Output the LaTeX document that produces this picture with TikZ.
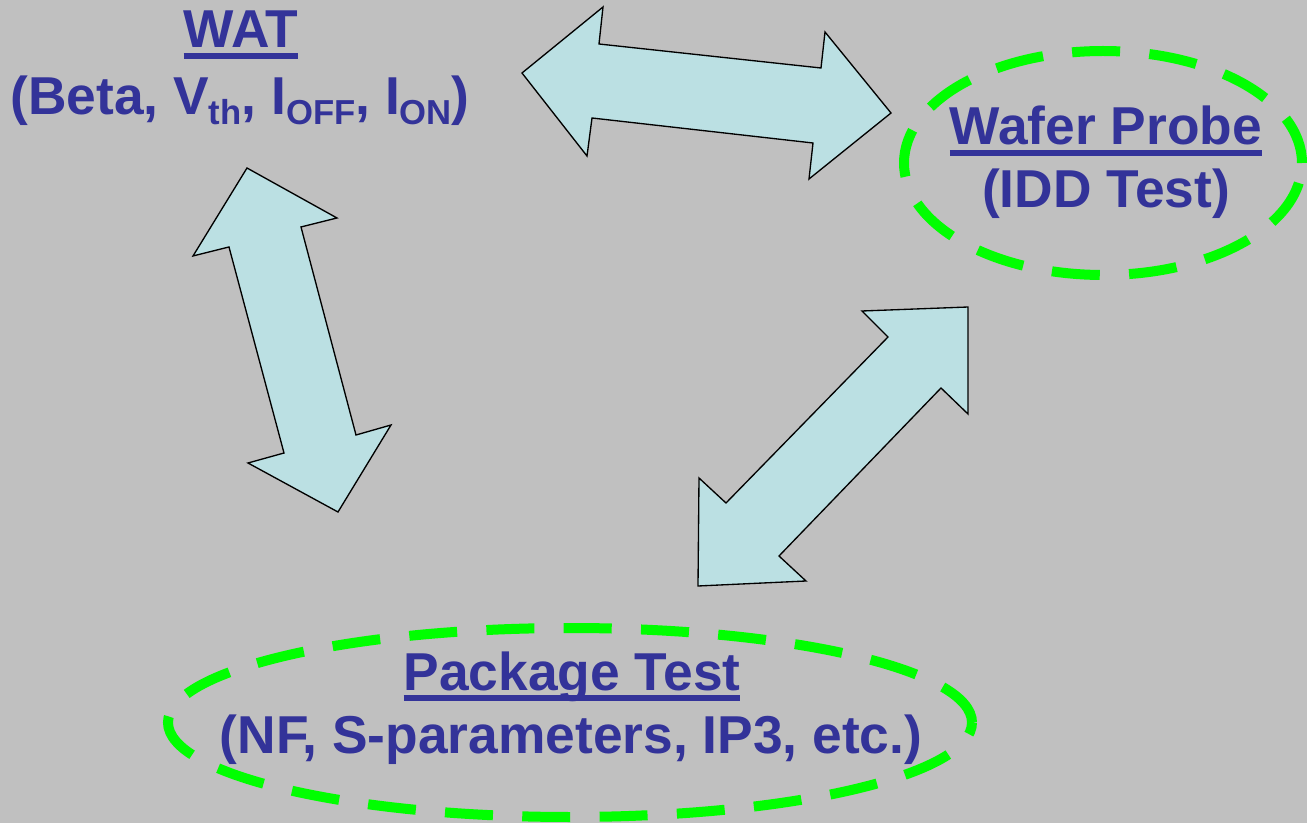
\documentclass[tikz,border=0pt]{standalone}
\usepackage{fontspec}
\setmainfont{Liberation Sans}
\usetikzlibrary{shapes.geometric}
\definecolor{slidegray}{RGB}{192,192,192}
\definecolor{labelblue}{RGB}{51,51,153}
\definecolor{ringgreen}{RGB}{0,255,0}
\definecolor{arrowcyan}{RGB}{187,224,227}
\newcommand\lowtxt[1]{\raisebox{-7.5pt}{\fontsize{26}{26}\selectfont #1}}
\newcommand\undl[1]{\setbox0\hbox{#1}\rlap{\rule[-8pt]{\wd0}{4pt}}\box0}

\begin{document}
\begin{tikzpicture}[x=0.75pt, y=-0.75pt,
  title/.style={anchor=base, inner sep=0pt, text=labelblue,
                font=\fontsize{40}{48}\selectfont\bfseries},
  ring/.style={ellipse, draw=ringgreen, line width=7.5pt,
               dash pattern=on 36pt off 22pt, inner sep=0pt},
  blockarrow/.style={draw=black, fill=arrowcyan, line width=1pt, line join=miter}
]
  \fill[slidegray] (0,0) rectangle (1307,823);
  \useasboundingbox (0,0) rectangle (1307,823);

  % dashed rings
  \node[ring, minimum width=298.5pt, minimum height=168pt] (probering) at (1103,163) {};
  \node[ring, minimum width=603pt, minimum height=141.75pt] (pkgring) at (570,722.5) {};

  % block arrows
  \draw[blockarrow] (522,73) -- (603,7) -- (599,44) -- (821,68) -- (825,32) -- (891,113)
    -- (809,179) -- (813,143) -- (592,118) -- (587,156) -- cycle;
  \draw[blockarrow] (247,168) -- (337,218) -- (301,227) -- (356,435) -- (391,425) -- (338,512)
    -- (248,463) -- (284,453) -- (229,247) -- (193,256) -- cycle;
  \draw[blockarrow] (862,311) -- (968,307) -- (968,414) -- (941,388) -- (779,556) -- (806,581)
    -- (698,586) -- (699,478) -- (726,503) -- (888,337) -- cycle;

  % labels
  \node[title] (wat)      at (241,48)   {\undl{WAT}};
  \node[title] (watsub)   at (240,115)  {(Beta, V\lowtxt{th}, I\lowtxt{OFF}, I\lowtxt{ON})};
  \node[title] (probe)    at (1106,145) {\undl{Wafer Probe}};
  \node[title] (probesub) at (1106,208) {(IDD Test)};
  \node[title] (pkg)      at (572,690)  {\undl{Package Test}};
  \node[title] (pkgsub)   at (571,753)  {(NF, S-parameters, IP3, etc.)};
\end{tikzpicture}
\end{document}
